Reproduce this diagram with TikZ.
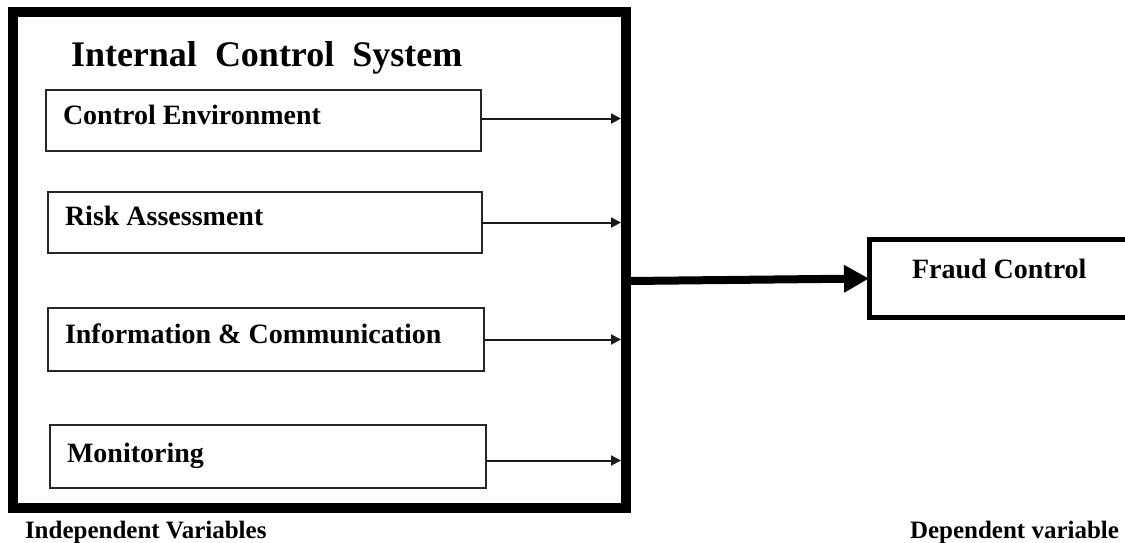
\documentclass[tikz,border=0pt]{standalone}
\usepackage{fontspec}
\setmainfont{Liberation Serif}
\usetikzlibrary{arrows.meta}
\begin{document}
\begin{tikzpicture}[x=1pt,y=-1pt,
  every node/.style={outer sep=0pt, inner sep=0pt},
  varbox/.style={draw=black!85, line width=1.5pt, anchor=north west, minimum width=436pt, minimum height=61pt},
  lbl/.style={font=\bfseries\fontsize{28}{32}\selectfont, anchor=base west},
  foot/.style={font=\bfseries\fontsize{25}{28}\selectfont, anchor=base west},
  thinarrow/.style={draw=black!90, line width=2pt, -{Triangle[length=10pt,width=10pt]}},
  bigarrow/.style={line width=8pt, -{Triangle[length=25pt,width=26pt]}}]
\useasboundingbox (0,0) rectangle (1125,542);
\clip (0,0) rectangle (1125,542);
% outer container
\node[draw, line width=10pt, anchor=north west, minimum width=612.5pt, minimum height=496pt] (ics) at (13,12) {};
\node[font=\bfseries\fontsize{36}{40}\selectfont, anchor=base west] (title) at (71,66) {Internal\ \ Control\ \ System};
% variable boxes
\node[varbox, minimum width=435pt] (b1) at (46,90) {};
\node[varbox, minimum width=434pt] (b2) at (48,192) {};
\node[varbox, minimum width=436pt, minimum height=63pt] (b3) at (48,308) {};
\node[varbox, minimum width=436pt, minimum height=63pt] (b4) at (50,425) {};
\node[lbl] (t1) at (63,124) {Control Environment};
\node[lbl] (t2) at (65,225) {Risk Assessment};
\node[lbl] (t3) at (65,343) {Information \& Communication};
\node[lbl] (t4) at (67,462) {Monitoring};
% inner rim of container
\coordinate (rim) at (621,0);
\draw[thinarrow] ([yshift=2pt]b1.east) -- ([yshift=2pt]b1.east -| rim);
\draw[thinarrow] (b2.east) -- (b2.east -| rim);
\draw[thinarrow] (b3.east) -- (b3.east -| rim);
\draw[thinarrow] ([yshift=-4pt]b4.east) -- ([yshift=-4pt]b4.east -| rim);
% dependent variable
\node[draw, line width=5pt, anchor=north west, minimum width=290pt, minimum height=78pt] (fc) at (869,239.5) {};
\node[lbl] (tfc) at (912,278) {Fraud Control};
\coordinate (m0) at (630,281);
\draw[bigarrow] (m0) -- (fc.west);
% captions
\node[foot] (iv) at (25,538) {Independent Variables};
\node[foot] (dv) at (910,538) {Dependent variable};
\end{tikzpicture}
\end{document}
